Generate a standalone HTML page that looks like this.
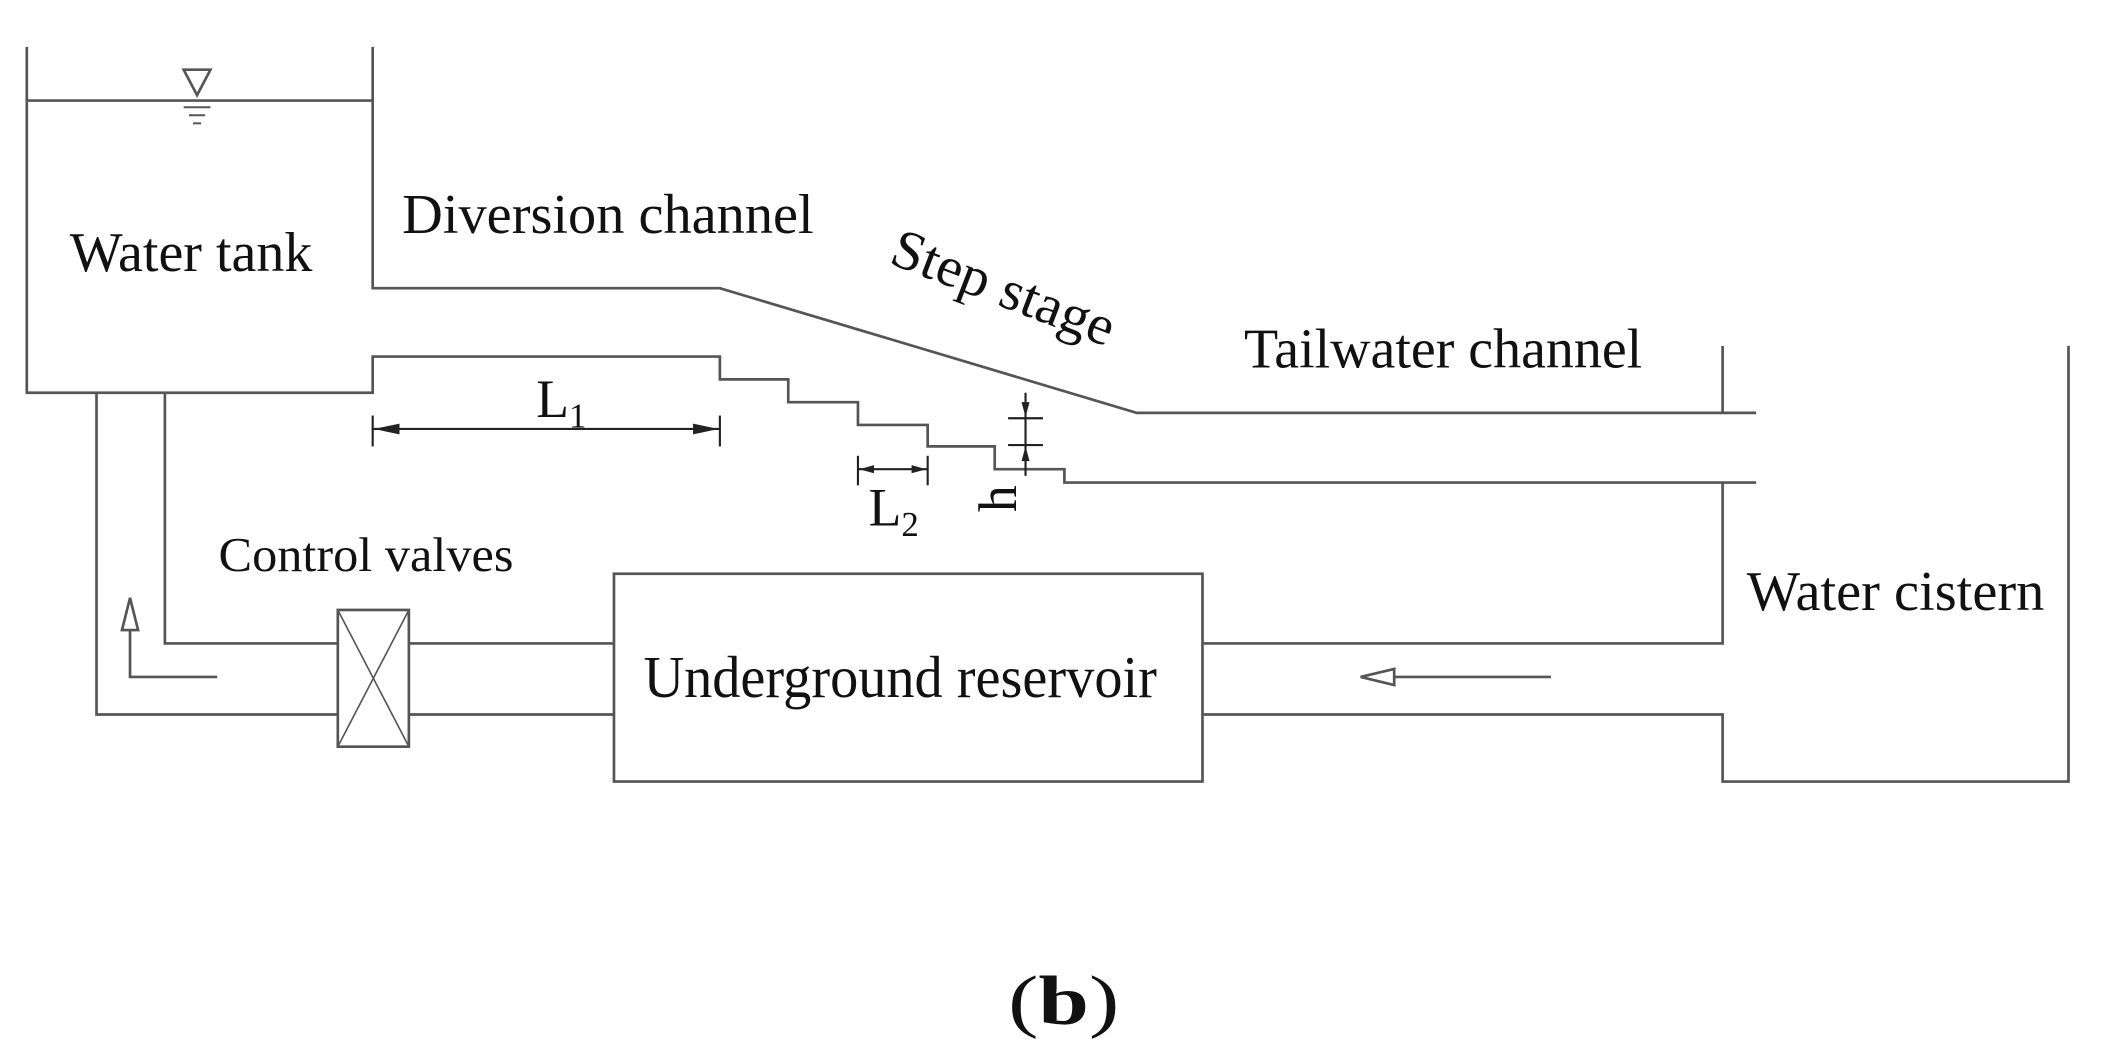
<!DOCTYPE html>
<html><head><style>
html,body{margin:0;padding:0;background:#fff;}
svg{display:block;}
text{font-family:"Liberation Serif",serif;fill:#111;}
</style></head><body>
<svg width="2102" height="1042" viewBox="0 0 1568 777.3" preserveAspectRatio="none">
<g fill="none" stroke="#555" stroke-width="2">
<polyline points="20,35 20,293 278,293 278,266 537,266 537,283 588,283 588,300 640,300 640,317 692,317 692,333 742,333 742,350 794,350 794,360 1310,360"/>
<line x1="20" y1="75" x2="278" y2="75"/>
<polyline points="278,35 278,215 537,215 848,308 1310,308"/>
<polygon points="137,52 157,52 147,71"/>
<line x1="137" y1="80" x2="157" y2="80" stroke-width="1.5"/>
<line x1="141" y1="86" x2="153" y2="86" stroke-width="1.5"/>
<line x1="144" y1="92" x2="150" y2="92" stroke-width="1.5"/>
<line x1="1285" y1="258" x2="1285" y2="308"/>
<polyline points="1285,360 1285,480 897,480"/>
<polyline points="897,533 1285,533 1285,583 1543,583 1543,258"/>
<rect x="458" y="428" width="439" height="155"/>
<polyline points="123,293 123,480 252,480"/>
<line x1="305" y1="480" x2="458" y2="480"/>
<polyline points="72,293 72,533 252,533"/>
<line x1="305" y1="533" x2="458" y2="533"/>
<rect x="252" y="455" width="53" height="102"/>
<line x1="252" y1="455" x2="305" y2="557" stroke-width="1.2"/>
<line x1="305" y1="455" x2="252" y2="557" stroke-width="1.2"/>
<polyline points="162,505 97,505 97,470"/>
<polygon points="91,470 103,470 97,446" fill="#fff"/>
<line x1="1157" y1="505" x2="1040" y2="505"/>
<polygon points="1040,499 1040,511 1015,505" fill="#fff"/>
</g>
<g stroke="#222" stroke-width="1.6" fill="#222">
<line x1="278" y1="310" x2="278" y2="333"/>
<line x1="537" y1="310" x2="537" y2="333"/>
<line x1="278" y1="320" x2="537" y2="320"/>
<polygon points="279,320 298,316 298,324" stroke="none"/>
<polygon points="536,320 517,316 517,324" stroke="none"/>
<line x1="640" y1="340" x2="640" y2="362"/>
<line x1="692" y1="340" x2="692" y2="362"/>
<line x1="640" y1="350" x2="692" y2="350"/>
<polygon points="641,350 652,347 652,353" stroke="none"/>
<polygon points="691,350 680,347 680,353" stroke="none"/>
<line x1="765" y1="293" x2="765" y2="355"/>
<line x1="752" y1="312" x2="778" y2="312"/>
<line x1="752" y1="332" x2="778" y2="332"/>
<polygon points="765,311 762,300 768,300" stroke="none"/>
<polygon points="765,333 762,344 768,344" stroke="none"/>
</g>
<text x="52" y="202" font-size="42" textLength="181" lengthAdjust="spacingAndGlyphs">Water tank</text>
<text x="300" y="174" font-size="42" textLength="307" lengthAdjust="spacingAndGlyphs">Diversion channel</text>
<text x="0" y="0" font-size="42" textLength="175" lengthAdjust="spacingAndGlyphs" transform="translate(662,196) rotate(21)">Step stage</text>
<text x="928" y="274" font-size="42" textLength="297" lengthAdjust="spacingAndGlyphs">Tailwater channel</text>
<text x="163" y="426" font-size="36" textLength="220" lengthAdjust="spacingAndGlyphs">Control valves</text>
<text x="480" y="520" font-size="44" textLength="383" lengthAdjust="spacingAndGlyphs">Underground reservoir</text>
<text x="1303" y="455" font-size="42" textLength="222" lengthAdjust="spacingAndGlyphs">Water cistern</text>
<text x="400" y="311" font-size="40">L<tspan font-size="26" dy="8">1</tspan></text>
<text x="648" y="392" font-size="40">L<tspan font-size="26" dy="8">2</tspan></text>
<text x="0" y="0" font-size="40" transform="translate(758,382) rotate(-90)">h</text>
<text x="752" y="764" font-size="52" textLength="83" lengthAdjust="spacingAndGlyphs">(<tspan font-weight="bold">b</tspan>)</text>
</svg>
</body></html>
